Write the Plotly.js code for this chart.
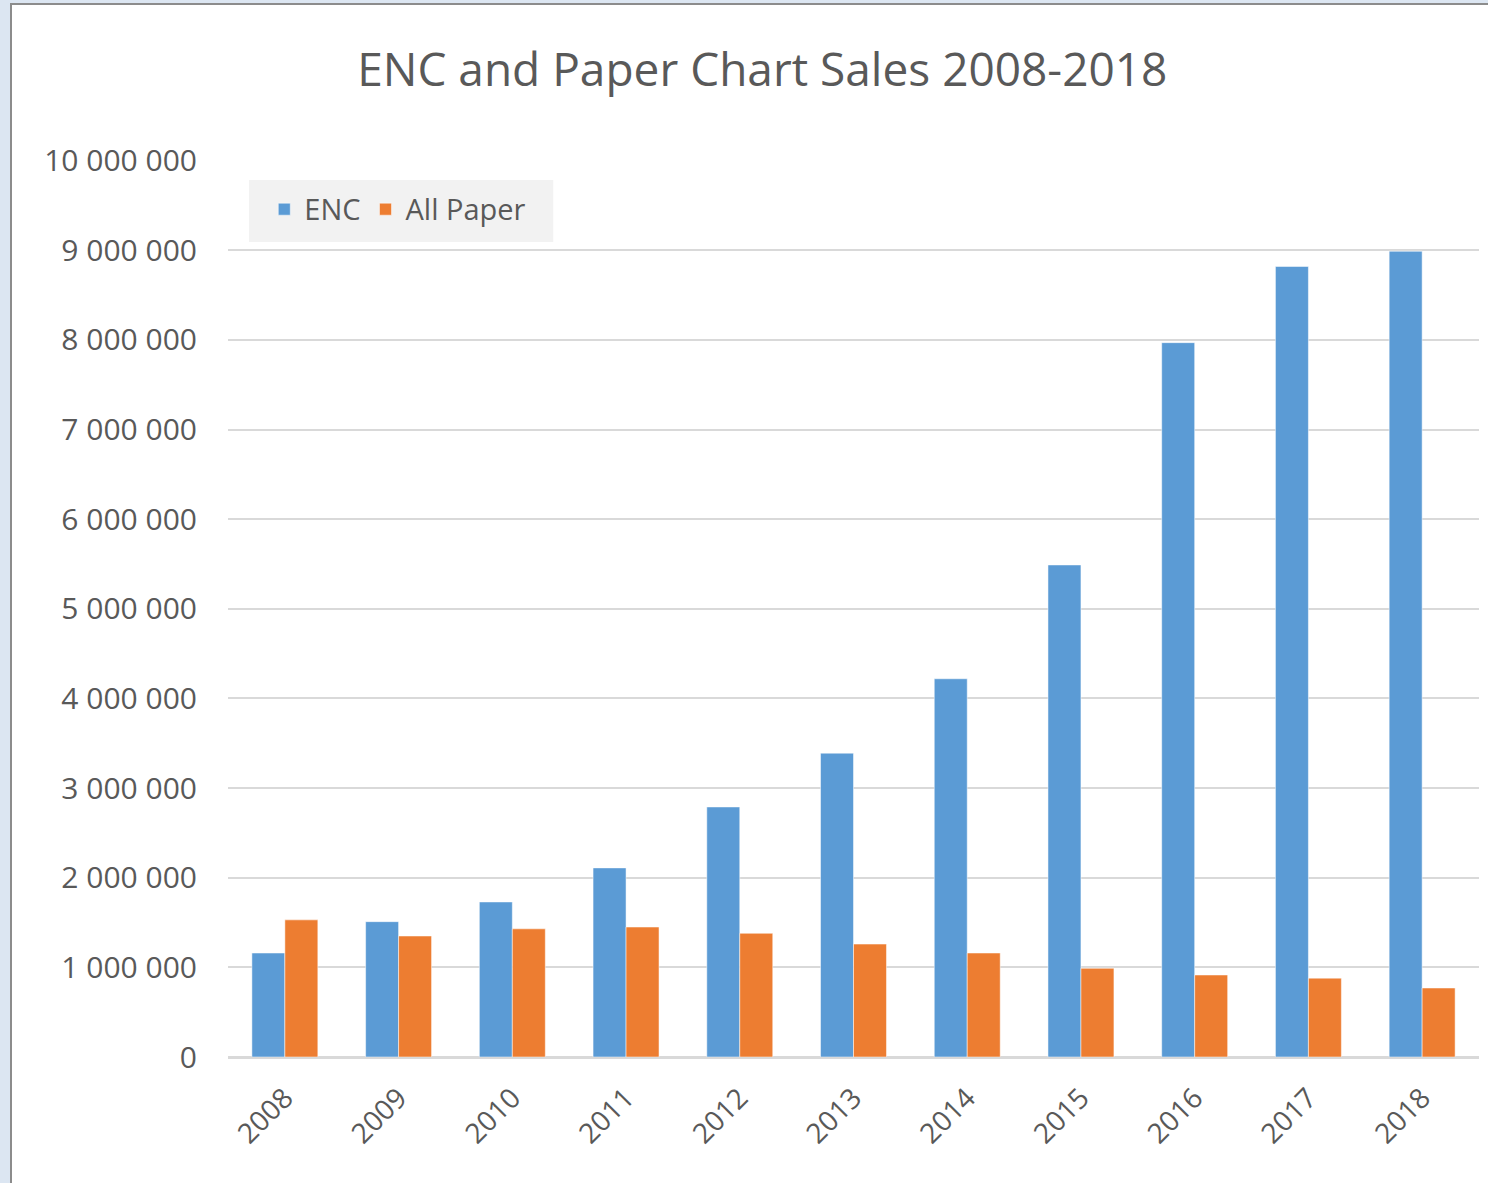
<!DOCTYPE html>
<html>
<head>
<meta charset="utf-8">
<script src="https://cdn.plot.ly/plotly-3.0.1.min.js"></script>
<style>
html, body { margin: 0; padding: 0; background: #dce6f2; width: 1488px; height: 1183px; overflow: hidden; }
#frame { position: absolute; left: 10px; top: 3px; width: 1478px; height: 1180px; border-left: 2px solid #8c8c8c; border-top: 2px solid #8c8c8c; background: #ffffff; box-sizing: border-box; }
#chart { position: absolute; left: 1px; top: 0px; width: 1475px; height: 1178px; }
</style>
</head>
<body>
<div id="frame"><div id="chart"></div></div>
<script>
var years = ['2008','2009','2010','2011','2012','2013','2014','2015','2016','2017','2018'];
var encSales = [1160000, 1510000, 1730000, 2110000, 2790000, 3390000, 4220000, 5490000, 7970000, 8820000, 8990000];
var paperSales = [1530000, 1350000, 1430000, 1450000, 1380000, 1260000, 1160000, 990000, 915000, 880000, 770000];
var yTicks = [0, 1000000, 2000000, 3000000, 4000000, 5000000, 6000000, 7000000, 8000000, 9000000, 10000000];

var font = 'Open Sans, Noto Sans, sans-serif';
var textColor = '#595959';

var data = [
  { type: 'bar', name: 'ENC', x: years, y: encSales, marker: { color: '#5b9bd5', line: { color: '#ffffff', width: 0.5 } } },
  { type: 'bar', name: 'All Paper', x: years, y: paperSales, marker: { color: '#ed7d31', line: { color: '#ffffff', width: 0.5 } } }
];

var layout = {
  width: 1475, height: 1178,
  paper_bgcolor: '#ffffff', plot_bgcolor: '#ffffff',
  margin: { l: 215, r: 9, t: 155, b: 126 },
  font: { family: font, color: textColor },
  title: { text: 'ENC and Paper Chart Sales 2008-2018', x: 0.508, xanchor: 'center', y: 0.945, yanchor: 'middle', font: { family: font, size: 46, color: textColor } },
  barmode: 'group', bargap: 0.42, bargroupgap: 0,
  separators: '. ',
  xaxis: { type: 'category', tickangle: -45, tickfont: { size: 28, color: textColor }, showgrid: false, zeroline: false, showline: false, ticks: '', ticklabelstandoff: 18 },
  yaxis: { range: [0, 10008000], tickvals: yTicks, tickformat: ',d', tickfont: { size: 30, color: textColor }, showgrid: true, gridcolor: '#d9d9d9', gridwidth: 2, zeroline: true, zerolinecolor: '#d9d9d9', zerolinewidth: 3, showline: false, ticks: '', ticklabelstandoff: 30 },
  legend: { orientation: 'h', x: 0.029, xanchor: 'left', y: 0.945, yanchor: 'middle', bgcolor: 'rgba(0,0,0,0)', font: { size: 29, color: textColor }, itemwidth: 30, borderwidth: 0 },
  shapes: [
    { type: 'rect', xref: 'paper', yref: 'paper', x0: 0.0168, x1: 0.26, y0: 0.9085, y1: 0.9777, fillcolor: '#f2f2f2', line: { width: 0 }, layer: 'below' }
  ],
  showlegend: true
};

Plotly.newPlot('chart', data, layout, { displayModeBar: false, staticPlot: true });
</script>
</body>
</html>
